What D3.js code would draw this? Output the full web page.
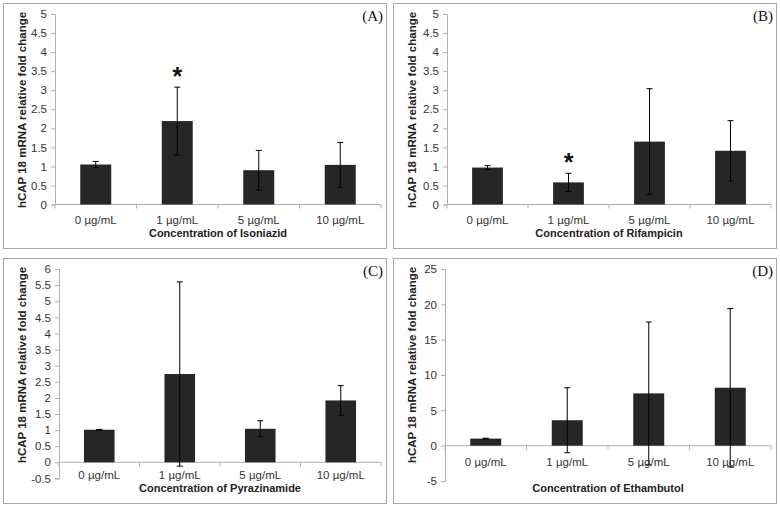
<!DOCTYPE html>
<html><head><meta charset="utf-8">
<script src="https://cdn.jsdelivr.net/npm/d3@7"></script>
<style>
body{margin:0;background:#fff;}
svg{display:block;font-family:"Liberation Sans",Arial,sans-serif;}
</style></head>
<body>
<svg id="c" width="780" height="510"></svg>
<script>
const categories = ["0 µg/mL","1 µg/mL","5 µg/mL","10 µg/mL"];

const valuesA = [1.05, 2.19, 0.90, 1.04];
const errorsA = [0.08, 0.89, 0.52, 0.59];
const sigA = [false, true, false, false];

const valuesB = [0.97, 0.58, 1.65, 1.41];
const errorsB = [0.05, 0.24, 1.39, 0.79];
const sigB = [false, true, false, false];

const valuesC = [1.01, 2.74, 1.04, 1.92];
const errorsC = [0.01, 2.86, 0.25, 0.46];
const sigC = [false, false, false, false];

const valuesD = [1.0, 3.6, 7.4, 8.2];
const errorsD = [0.05, 4.6, 10.1, 11.2];
const sigD = [false, false, false, false];

const ticksAB = [0,0.5,1,1.5,2,2.5,3,3.5,4,4.5,5];
const ticksC = [-0.5,0,0.5,1,1.5,2,2.5,3,3.5,4,4.5,5,5.5,6];
const ticksD = [-5,0,5,10,15,20,25];

const yTitle = "hCAP 18 mRNA relative fold change";
const xTitles = ["Concentration of Isoniazid","Concentration of Rifampicin","Concentration of Pyrazinamide","Concentration of Ethambutol"];
const panelLabels = ["(A)","(B)","(C)","(D)"];

const svg = d3.select("#c");

const panels = [
  {ox:0, oy:0, vals:valuesA, errs:errorsA, sig:sigA, ticks:ticksAB, dom:[0,5], ax:55, top:14, bot:204.5, labY:224, titY:237},
  {ox:390, oy:0, vals:valuesB, errs:errorsB, sig:sigB, ticks:ticksAB, dom:[0,5], ax:57, top:14, bot:204.5, labY:224, titY:237},
  {ox:0, oy:255, vals:valuesC, errs:errorsC, sig:sigC, ticks:ticksC, dom:[-0.5,6], ax:59, top:14, bot:223.4, labY:224, titY:237},
  {ox:390, oy:255, vals:valuesD, errs:errorsD, sig:sigD, ticks:ticksD, dom:[-5,25], ax:55, top:14, bot:226, labY:211, titY:237}
];

panels.forEach((p,i)=>{
  const g = svg.append("g").attr("transform",`translate(${p.ox},${p.oy})`);
  g.append("rect").attr("x",3.5).attr("y",3.5).attr("width",383).attr("height",245)
    .attr("fill","#fff").attr("stroke","#a6a6a6").attr("stroke-width",1);

  const y = d3.scaleLinear().domain(p.dom).range([p.bot,p.top]);
  const x = d3.scaleBand().domain(categories).range([p.ax,381]);
  const y0 = y(0);

  // y axis
  const yAxis = d3.axisLeft(y).tickValues(p.ticks).tickSize(4).tickPadding(4)
    .tickFormat(d=>String(d));
  const ya = g.append("g").attr("transform",`translate(${p.ax},0)`).call(yAxis);
  ya.select(".domain").attr("stroke","#b0b0b0");
  ya.selectAll(".tick line").attr("stroke","#b0b0b0");
  ya.selectAll(".tick text").attr("fill","#333").style("font-size","11.5px");

  // x axis line at zero
  g.append("line").attr("x1",p.ax).attr("x2",381).attr("y1",y0).attr("y2",y0)
    .attr("stroke","#b0b0b0");
  const bounds = categories.map(c=>x(c)).concat([x.range()[1]]);
  g.selectAll(".xt").data(bounds).enter().append("line")
    .attr("x1",d=>d).attr("x2",d=>d).attr("y1",y0).attr("y2",y0+4).attr("stroke","#b0b0b0");

  // bars
  const bw = x.bandwidth()*0.38;
  const cx = c=>x(c)+x.bandwidth()/2;
  g.selectAll(".bar").data(p.vals).enter().append("rect")
    .attr("x",(d,j)=>cx(categories[j])-bw/2)
    .attr("y",d=>y(d)).attr("width",bw).attr("height",d=>y0-y(d))
    .attr("fill","#262626");

  // error bars
  p.vals.forEach((v,j)=>{
    const e = p.errs[j], c = cx(categories[j]);
    const yt = y(v+e), yb = y(v-e);
    g.append("line").attr("x1",c).attr("x2",c).attr("y1",yt).attr("y2",yb).attr("stroke","#000").attr("stroke-width",1);
    g.append("line").attr("x1",c-3).attr("x2",c+3).attr("y1",yt).attr("y2",yt).attr("stroke","#000");
    g.append("line").attr("x1",c-3).attr("x2",c+3).attr("y1",yb).attr("y2",yb).attr("stroke","#000");
    if(p.sig[j]){
      g.append("text").attr("x",c).attr("y",yt-16+14).attr("text-anchor","middle")
        .style("font-size","25px").style("font-weight","bold").attr("fill","#111").text("*");
    }
  });

  // category labels
  g.selectAll(".cl").data(categories).enter().append("text")
    .attr("x",d=>cx(d)).attr("y",p.labY).attr("text-anchor","middle")
    .style("font-size","11.5px").attr("fill","#333").text(d=>d);

  // x title
  g.append("text").attr("x",(p.ax+381)/2).attr("y",p.titY).attr("text-anchor","middle")
    .style("font-size","11px").style("font-weight","bold").attr("fill","#222").text(xTitles[i]);

  // y title
  g.append("text").attr("transform",`translate(26,110) rotate(-90)`).attr("text-anchor","middle")
    .style("font-size","11.5px").style("font-weight","bold").attr("fill","#222").text(yTitle);

  // panel label
  g.append("text").attr("x",383).attr("y",21).attr("text-anchor","end")
    .style("font-family","'Liberation Serif','Times New Roman',serif").style("font-size","15px")
    .attr("fill","#111").text(panelLabels[i]);
});
</script>
</body></html>
